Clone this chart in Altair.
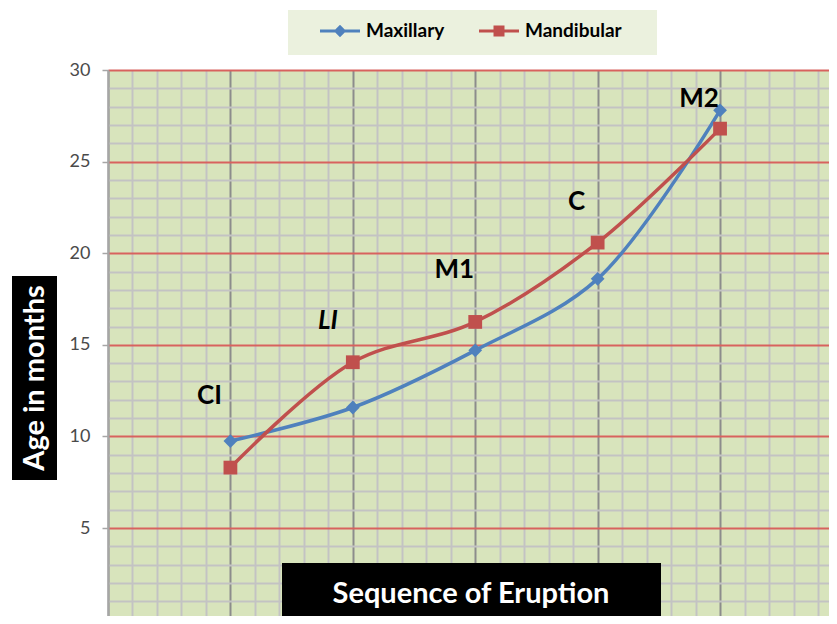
import altair as alt
import pandas as pd

# ---- data ----
teeth = ["CI", "LI", "M1", "C", "M2"]
sequence = [1, 2, 3, 4, 5]
maxillary = [9.75, 11.58, 14.7, 18.6, 27.8]
mandibular = [8.3, 14.05, 16.25, 20.58, 26.8]
label_y = [12.2, 16.3, 19.1, 22.8, 28.4]
label_italic = [False, True, False, False, False]
series_names = ["Maxillary", "Mandibular"]
series_colors = ["#4F81BD", "#C0504D"]
y_title = "Age in months"
x_title = "Sequence of Eruption"

rows = []
for s, vals in zip(series_names, [maxillary, mandibular]):
    for t, p, v in zip(teeth, sequence, vals):
        rows.append({"series": s, "tooth": t, "pos": p, "value": v})
df = pd.DataFrame(rows)
lab = pd.DataFrame({"tooth": teeth, "pos": sequence, "ly": label_y, "italic": label_italic})

FONT = "Lato"
x_grid_values = [round(i * 0.2, 1) for i in range(0, 30)]

x_scale = alt.Scale(domain=[0, 5.89], nice=False, zero=False)
y_scale = alt.Scale(domain=[0.2, 30], nice=False, zero=False)

x_axis = alt.Axis(
    values=x_grid_values, tickCount=200, grid=True, labels=False, ticks=False, domain=False, title=None,
    gridColor={"condition": {"test": "abs(datum.value - round(datum.value)) < 0.01", "value": "#8C8C8C"},
               "value": "#C3C3C3"},
    gridWidth=2,
)
y_axis = alt.Axis(
    values=list(range(1, 31)), tickCount=200, grid=True, title=None, format="d",
    labelExpr="datum.value % 5 === 0 ? datum.label : ''",
    labelOverlap=False,
    gridColor={"condition": {"test": "datum.value % 5 === 0", "value": "#D8625E"}, "value": "#C3C3C3"},
    gridWidth=2,
    tickColor={"condition": {"test": "datum.value % 5 === 0", "value": "#A6A6A6"}, "value": "transparent"},
    tickSize=6, tickWidth=1.5,
    domainColor="#A6A6A6", domainWidth=2,
    labelFont=FONT, labelFontSize=18, labelColor="#4A4A4A", labelPadding=12,
)

color_scale = alt.Scale(domain=series_names, range=series_colors)
shape_scale = alt.Scale(
    domain=series_names,
    range=[
        "M-2,-0.15H2V0.15H-2Z M0,-0.62L0.62,0L0,0.62L-0.62,0Z",
        "M-2,-0.15H2V0.15H-2Z M-0.55,-0.55H0.55V0.55H-0.55Z",
    ],
)

X = alt.X("pos:Q", scale=x_scale, axis=x_axis)
Y = alt.Y("value:Q", scale=y_scale, axis=y_axis)

legend_layer = alt.Chart(df).mark_point(filled=True, opacity=0).encode(
    x=X, y=Y,
    color=alt.Color("series:N", scale=color_scale, legend=alt.Legend(title=None, symbolOpacity=1)),
    shape=alt.Shape("series:N", scale=shape_scale, legend=alt.Legend(title=None, symbolOpacity=1)),
)

# legend background panel (decoration)
lbg = alt.Chart(pd.DataFrame({"k": [0]})).mark_rect(color="#EBF1DE").encode(
    x=alt.value(180), x2=alt.value(549), y=alt.value(-60), y2=alt.value(-15)
)

lines = alt.Chart(df).mark_line(interpolate="catmull-rom", strokeWidth=3.5).encode(
    x=X, y=Y, color=alt.Color("series:N", scale=color_scale, legend=None)
)
pts_max = alt.Chart(df).transform_filter("datum.series === 'Maxillary'").mark_point(
    shape="diamond", filled=True, size=190, opacity=1
).encode(x=X, y=Y, color=alt.Color("series:N", scale=color_scale, legend=None))
pts_man = alt.Chart(df).transform_filter("datum.series === 'Mandibular'").mark_point(
    shape="square", filled=True, size=190, opacity=1
).encode(x=X, y=Y, color=alt.Color("series:N", scale=color_scale, legend=None))

labels_n = alt.Chart(lab).transform_filter("!datum.italic").mark_text(
    font=FONT, fontSize=26, fontWeight="bold", color="black", dx=-21, align="center", baseline="middle"
).encode(x=alt.X("pos:Q", scale=x_scale), y=alt.Y("ly:Q", scale=y_scale), text="tooth:N")
labels_i = alt.Chart(lab).transform_filter("datum.italic").mark_text(
    font=FONT, fontSize=26, fontWeight="bold", fontStyle="italic", color="black", dx=-25,
    align="center", baseline="middle"
).encode(x=alt.X("pos:Q", scale=x_scale), y=alt.Y("ly:Q", scale=y_scale), text="tooth:N")

ttl = pd.DataFrame({"t": [x_title]})
xbox = alt.Chart(ttl).mark_rect(color="black").encode(
    x=alt.value(174), x2=alt.value(553), y=alt.value(493), y2=alt.value(560)
)
xtext = alt.Chart(ttl).mark_text(
    font=FONT, fontSize=29, fontWeight="bold", color="white", align="center", baseline="middle"
).encode(x=alt.value(363), y=alt.value(524), text="t:N")

yttl = pd.DataFrame({"t": [y_title]})
ybox = alt.Chart(yttl).mark_rect(color="black").encode(
    x=alt.value(-96), x2=alt.value(-51), y=alt.value(206), y2=alt.value(410)
)
ytext = alt.Chart(yttl).mark_text(
    font=FONT, fontSize=29, fontWeight="bold", color="white", align="center", baseline="middle", angle=270
).encode(x=alt.value(-73), y=alt.value(308), text="t:N")

chart = alt.layer(
    legend_layer, lbg, lines, pts_max, pts_man, labels_n, labels_i, xbox, xtext, ybox, ytext
).properties(
    width=721, height=546,
    padding={"left": 100, "top": 62, "right": 0, "bottom": 0},
    autosize=alt.AutoSizeParams(type="none"),
).configure_view(
    fill="#D8E4BC", stroke=None
).configure_legend(
    orient="none", legendX=222, legendY=-49, direction="horizontal",
    padding=0, symbolSize=400, symbolStrokeWidth=0,
    labelFont=FONT, labelFontSize=19, labelFontWeight="bold", labelColor="black",
    labelOffset=16, columnPadding=34,
)

chart.save("out.html", embed_options={"renderer": "svg", "actions": False})
